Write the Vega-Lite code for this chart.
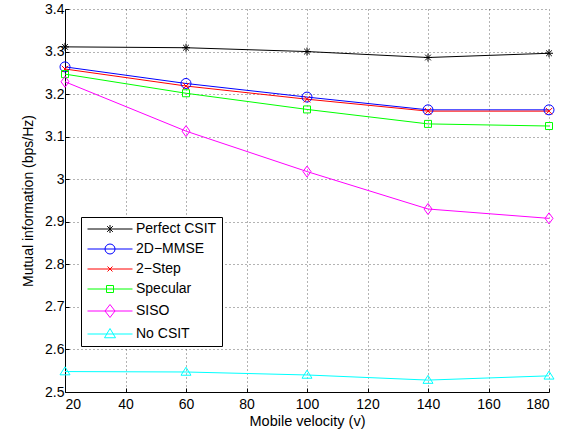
{
  "$schema": "https://vega.github.io/schema/vega-lite/v6.json",
  "width": 484,
  "height": 383,
  "autosize": "none",
  "padding": {"left": 65, "top": 9, "right": 26, "bottom": 44},
  "config": {
    "view": {"stroke": null},
    "font": "Liberation Sans",
    "axis": {
      "domainColor": "#000",
      "domainWidth": 1,
      "tickColor": "#000",
      "tickSize": -4,
      "labelFontSize": 14,
      "labelColor": "#000",
      "titleFontSize": 14,
      "titleFontWeight": "normal",
      "titleColor": "#000",
      "gridColor": "#000",
      "gridDash": [1, 3],
      "gridOpacity": 0.6,
      "gridWidth": 1
    },
    "legend": {
      "orient": "none",
      "legendX": 16,
      "legendY": 208,
      "direction": "vertical",
      "strokeColor": "#000",
      "fillColor": "#fff",
      "padding": 5,
      "cornerRadius": 0,
      "symbolOffset": 17,
      "labelOffset": 19,
      "symbolSize": 100,
      "symbolStrokeWidth": 1,
      "symbolOpacity": 1,
      "labelFontSize": 14,
      "labelColor": "#000",
      "rowPadding": 6
    }
  },
  "data": {
    "values": [
      {"v": 20, "series": "Perfect CSIT", "mi": 3.311},
      {"v": 60, "series": "Perfect CSIT", "mi": 3.309},
      {"v": 100, "series": "Perfect CSIT", "mi": 3.300},
      {"v": 140, "series": "Perfect CSIT", "mi": 3.286},
      {"v": 180, "series": "Perfect CSIT", "mi": 3.296},
      {"v": 20, "series": "2D\u2212MMSE", "mi": 3.264},
      {"v": 60, "series": "2D\u2212MMSE", "mi": 3.225},
      {"v": 100, "series": "2D\u2212MMSE", "mi": 3.193},
      {"v": 140, "series": "2D\u2212MMSE", "mi": 3.163},
      {"v": 180, "series": "2D\u2212MMSE", "mi": 3.163},
      {"v": 20, "series": "2\u2212Step", "mi": 3.259},
      {"v": 60, "series": "2\u2212Step", "mi": 3.219},
      {"v": 100, "series": "2\u2212Step", "mi": 3.188},
      {"v": 140, "series": "2\u2212Step", "mi": 3.160},
      {"v": 180, "series": "2\u2212Step", "mi": 3.160},
      {"v": 20, "series": "Specular", "mi": 3.247},
      {"v": 60, "series": "Specular", "mi": 3.202},
      {"v": 100, "series": "Specular", "mi": 3.164},
      {"v": 140, "series": "Specular", "mi": 3.130},
      {"v": 180, "series": "Specular", "mi": 3.125},
      {"v": 20, "series": "SISO", "mi": 3.229},
      {"v": 60, "series": "SISO", "mi": 3.113},
      {"v": 100, "series": "SISO", "mi": 3.018},
      {"v": 140, "series": "SISO", "mi": 2.930},
      {"v": 180, "series": "SISO", "mi": 2.908},
      {"v": 20, "series": "No CSIT", "mi": 2.548},
      {"v": 60, "series": "No CSIT", "mi": 2.547},
      {"v": 100, "series": "No CSIT", "mi": 2.540},
      {"v": 140, "series": "No CSIT", "mi": 2.528},
      {"v": 180, "series": "No CSIT", "mi": 2.538}
    ]
  },
  "encoding": {
    "x": {
      "field": "v",
      "type": "quantitative",
      "scale": {"domain": [20, 180], "nice": false, "zero": false},
      "axis": {"values": [20, 40, 60, 80, 100, 120, 140, 160, 180], "title": "Mobile velocity (v)", "titleFontSize": 14.5, "labelPadding": 9, "titlePadding": 3}
    },
    "y": {
      "field": "mi",
      "type": "quantitative",
      "scale": {"domain": [2.5, 3.4], "nice": false, "zero": false},
      "axis": {"values": [2.5, 2.6, 2.7, 2.8, 2.9, 3, 3.1, 3.2, 3.3, 3.4], "format": "~g", "title": "Mutual information (bps/Hz)", "labelPadding": 5, "titlePadding": 9}
    }
  },
  "layer": [
    {
      "mark": {"type": "line", "strokeWidth": 1},
      "encoding": {
        "color": {
          "field": "series",
          "type": "nominal",
          "scale": {
            "domain": ["Perfect CSIT", "2D\u2212MMSE", "2\u2212Step", "Specular", "SISO", "No CSIT"],
            "range": ["#000000", "#0000ff", "#ff0000", "#00ff00", "#ff00ff", "#00ffff"]
          },
          "legend": null
        }
      }
    },
    {
      "mark": {"type": "point", "filled": false, "size": 100, "strokeWidth": 1, "opacity": 1},
      "encoding": {
        "color": {"field": "series", "type": "nominal", "legend": null},
        "shape": {
          "field": "series",
          "type": "nominal",
          "scale": {
            "domain": ["Perfect CSIT", "2D\u2212MMSE", "2\u2212Step", "Specular", "SISO", "No CSIT"],
            "range": [
              "M-0.8,0H0.8M0,-0.8V0.8M-0.57,-0.57L0.57,0.57M-0.57,0.57L0.57,-0.57",
              "M-1,0A1,1,0,1,0,1,0A1,1,0,1,0,-1,0",
              "M-0.65,-0.65L0.65,0.65M-0.65,0.65L0.65,-0.65",
              "M-0.7,-0.7H0.7V0.7H-0.7Z",
              "M0,-1.1L0.8,0L0,1.1L-0.8,0Z",
              "M0,-0.95L1,0.65L-1,0.65Z"
            ]
          },
          "legend": null
        }
      }
    },
    {
      "mark": {"type": "point", "filled": false, "size": 100, "strokeWidth": 1, "opacity": 0},
      "encoding": {
        "stroke": {
          "field": "series",
          "type": "nominal",
          "scale": {
            "domain": ["Perfect CSIT", "2D\u2212MMSE", "2\u2212Step", "Specular", "SISO", "No CSIT"],
            "range": ["#000000", "#0000ff", "#ff0000", "#00ff00", "#ff00ff", "#00ffff"]
          },
          "legend": {"title": null}
        },
        "shape": {
          "field": "series",
          "type": "nominal",
          "scale": {
            "domain": ["Perfect CSIT", "2D\u2212MMSE", "2\u2212Step", "Specular", "SISO", "No CSIT"],
            "range": [
              "M-4.5,0H4.5M0,-0.8V0.8M-0.57,-0.57L0.57,0.57M-0.57,0.57L0.57,-0.57",
              "M-4.5,0H4.5M-1,0A1,1,0,1,0,1,0A1,1,0,1,0,-1,0",
              "M-4.5,0H4.5M-0.5,-0.5L0.5,0.5M-0.5,0.5L0.5,-0.5",
              "M-4.5,0H4.5M-0.7,-0.7H0.7V0.7H-0.7Z",
              "M-4.5,0H4.5M0,-1.3L1,0L0,1.3L-1,0Z",
              "M-4.5,0H4.5M0,-1.1L1.1,0.75L-1.1,0.75Z"
            ]
          },
          "legend": {"title": null}
        }
      }
    }
  ],
  "resolve": {"scale": {"shape": "independent"}, "legend": {"shape": "independent", "stroke": "independent"}}
}
